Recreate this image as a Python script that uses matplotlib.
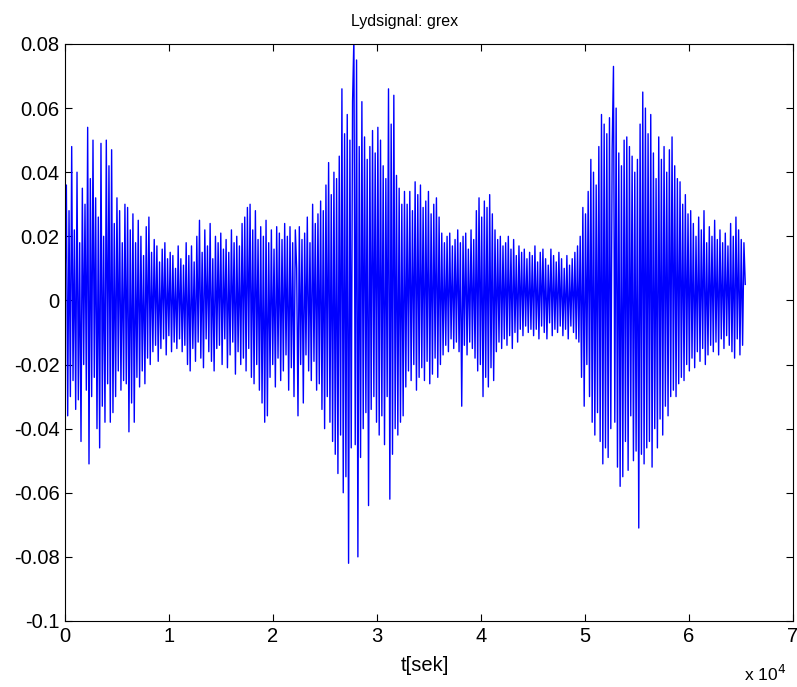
import numpy as np
import matplotlib
matplotlib.use("Agg")
import matplotlib.pyplot as plt

plt.rcParams['font.family'] = ['Liberation Sans', 'DejaVu Sans']

# Signal amplitude, in units of 1e-3, one value per 128 samples
seg_a = [5, 36, -36, 28, -30, 48, -25, 22, -34, 40, -31, 18, -44, 35, -20, 30, -28, 54, -51, 38,
         -30, 50, -24, 32, -40, 26, -46, 49, -33, 20, -38, 50, -26, 42, -38, 47, -35, 24, -30, 32,
         -22, 28, -28, 18, -25, 30]
seg_b = [-26, 29, -41, 22, -32, 27, -38, 18, -24, 25, -27, 20, -22, 14, -26, 23, -18, 26, -20, 15,
         -16, 19, -14, 17, -19, 12, -15, 16, -12, 18, -17, 13, -11, 15, -16, 14, -13, 10, -15, 17,
         -12, 13, -16, 11, -14]
seg_c = [18, -20, 14, -22, 17, -15, 12, -19, 20, -13, 25, -18, 15, -21, 22, -12, 17, -16, 24, -19,
         13, -22, 20, -15, 18, -14, 21, -20, 16, -12, 19, -21, 15, -17, 22, -13, 18, -23, 20, -16,
         17, -20, 24, -18, 26, -22, 29, -15, 30, -24, 22, -26, 28, -20, 19, -28, 23, -32, 20, -38,
         25, -36, 18, -24, 22, -20, 16, -27, 23, -18, 21, -25, 19, -22, 24, -17, 20, -28, 23, -21,
         18, -30, 22, 10, -36]
seg_d = [23, -20, 19, -32, 21, -17, 26, -22, 18, -25, 30, -19, 24, -28, 27,
         -26, 31, -34, 28, -40, 36, -30, 43, -38, 33, -44, 40, -48, 38, -54,
         45, -42, 66, -60, 52, -55, 58, -82, 50, -46, 62, 82, -45, 75, -80,
         48, -49, 62, -40, 51, -35, 44, -64, 48, -34, 53, -30, 46, -38, 54,
         -42, 50, -36, 42, -45, 38, -30, 66, -62, 55, -48, 64, -40, 39, -42, 35, -38, 30, -36, 34]
seg_e = [-27, 30, -22, 34, -25, 28, -20, 37, -28, 33, -24, 36, -21, 29, -25,
         31, -19, 34, -26, 27, -23, 30, -18, 32, -24, 26, -20, 21, -17, 18,
         -14, 20, -16, 21, -12, 17, -15, 19, -13, 22, -16, 18, -33, 20, -14,
         21, -17, 16, -13, 22, -15, 19, -18, 28, -22, 32, -20, 26, -30, 31,
         -24, 29, -27, 33, -21, 27, -25, 22, -16, 19, -13, 20, -15, 17, -12,
         18, -14, 20, -11, 16, -15, 19, -10, 14, -13, 17, -9, 15, -11, 16, -8, 13, -10, 15, -9]
seg_f = [14, -11, 17, -9, 12, -12, 15, -8, 16, -10, 13, -12, 11, -7, 16, -11, 14, -9, 12, -10,
         15, -8, 13, -11, 10, -9, 14, -12, 11, -8, 13, -10, 15, -12, 17]
seg_g = [-13, 20, -24, 29, -33, 27, -20, 34, -30, 44, -38, 40, -42, 36, -35,
         48, -44, 58, -51, 55, -46, 52, -49, 57, -40, 47, 73, -38, 60, -52,
         46, -58, 42, -55, 50, -44, 51, -53, 48, -36, 45, -50, 40, -47, 44,
         -71, 55, -48, 65, -51, 60, -46, 52, -44, 58]
seg_h = [-52, 46, -40, 38, -46, 51, -37, 44, -42, 48, -33, 40, -36, 47, -30,
         51, -28, 42, -30, 38, -26, 37, -24, 30, -25, 33, -20, 27, -22, 28,
         -18, 24, -21, 20, -16, 26, -19, 22, -15, 28, -20, 18, -17, 23, -14,
         20, -16, 25, -13, 19, -17, 22, -12, 18, -15, 21, -11, 17, -14, 24,
         -16, 20, -18, 26, -12, 22, -17, 19, -14, 18, 5]

samples_per_value = 128
amp_milli = seg_a + seg_b + seg_c + seg_d + seg_e + seg_f + seg_g + seg_h

y_ticks = [-0.1, -0.08, -0.06, -0.04, -0.02, 0, 0.02, 0.04, 0.06, 0.08]
y_ticklabels = ['-0.1', '-0.08', '-0.06', '-0.04', '-0.02', '0', '0.02', '0.04', '0.06', '0.08']
x_ticks = [0, 1, 2, 3, 4, 5, 6, 7]

y = np.array(amp_milli) / 1000.0
t = np.arange(len(y)) * samples_per_value

fig = plt.figure(figsize=(7.97, 6.87), dpi=100)
ax = fig.add_axes([0.0816, 0.0961, 0.9134, 0.8399])
ax.plot(t, y, color=(0, 0, 1), linewidth=1.0)
ax.set_xlim(0, 7e4)
ax.set_ylim(-0.1, 0.08)
ax.set_xticks([v * 1e4 for v in x_ticks])
ax.set_xticklabels([str(v) for v in x_ticks])
ax.set_yticks(y_ticks)
ax.set_yticklabels(y_ticklabels)
ax.tick_params(direction='in', length=5, width=0.8, top=True, right=True,
               labelsize=14.5, pad=4)
for s in ax.spines.values():
    s.set_linewidth(0.8)
fig.text(0.508, 0.962, 'Lydsignal: grex', fontsize=11.5, ha='center', va='baseline')
fig.text(0.533, 0.024, 't[sek]', fontsize=14.5, ha='center', va='baseline')
fig.text(0.934, 0.005, r'x 10$^{4}$', fontsize=12.5, ha='left', va='bottom')

fig.savefig('out.png', dpi=100)
